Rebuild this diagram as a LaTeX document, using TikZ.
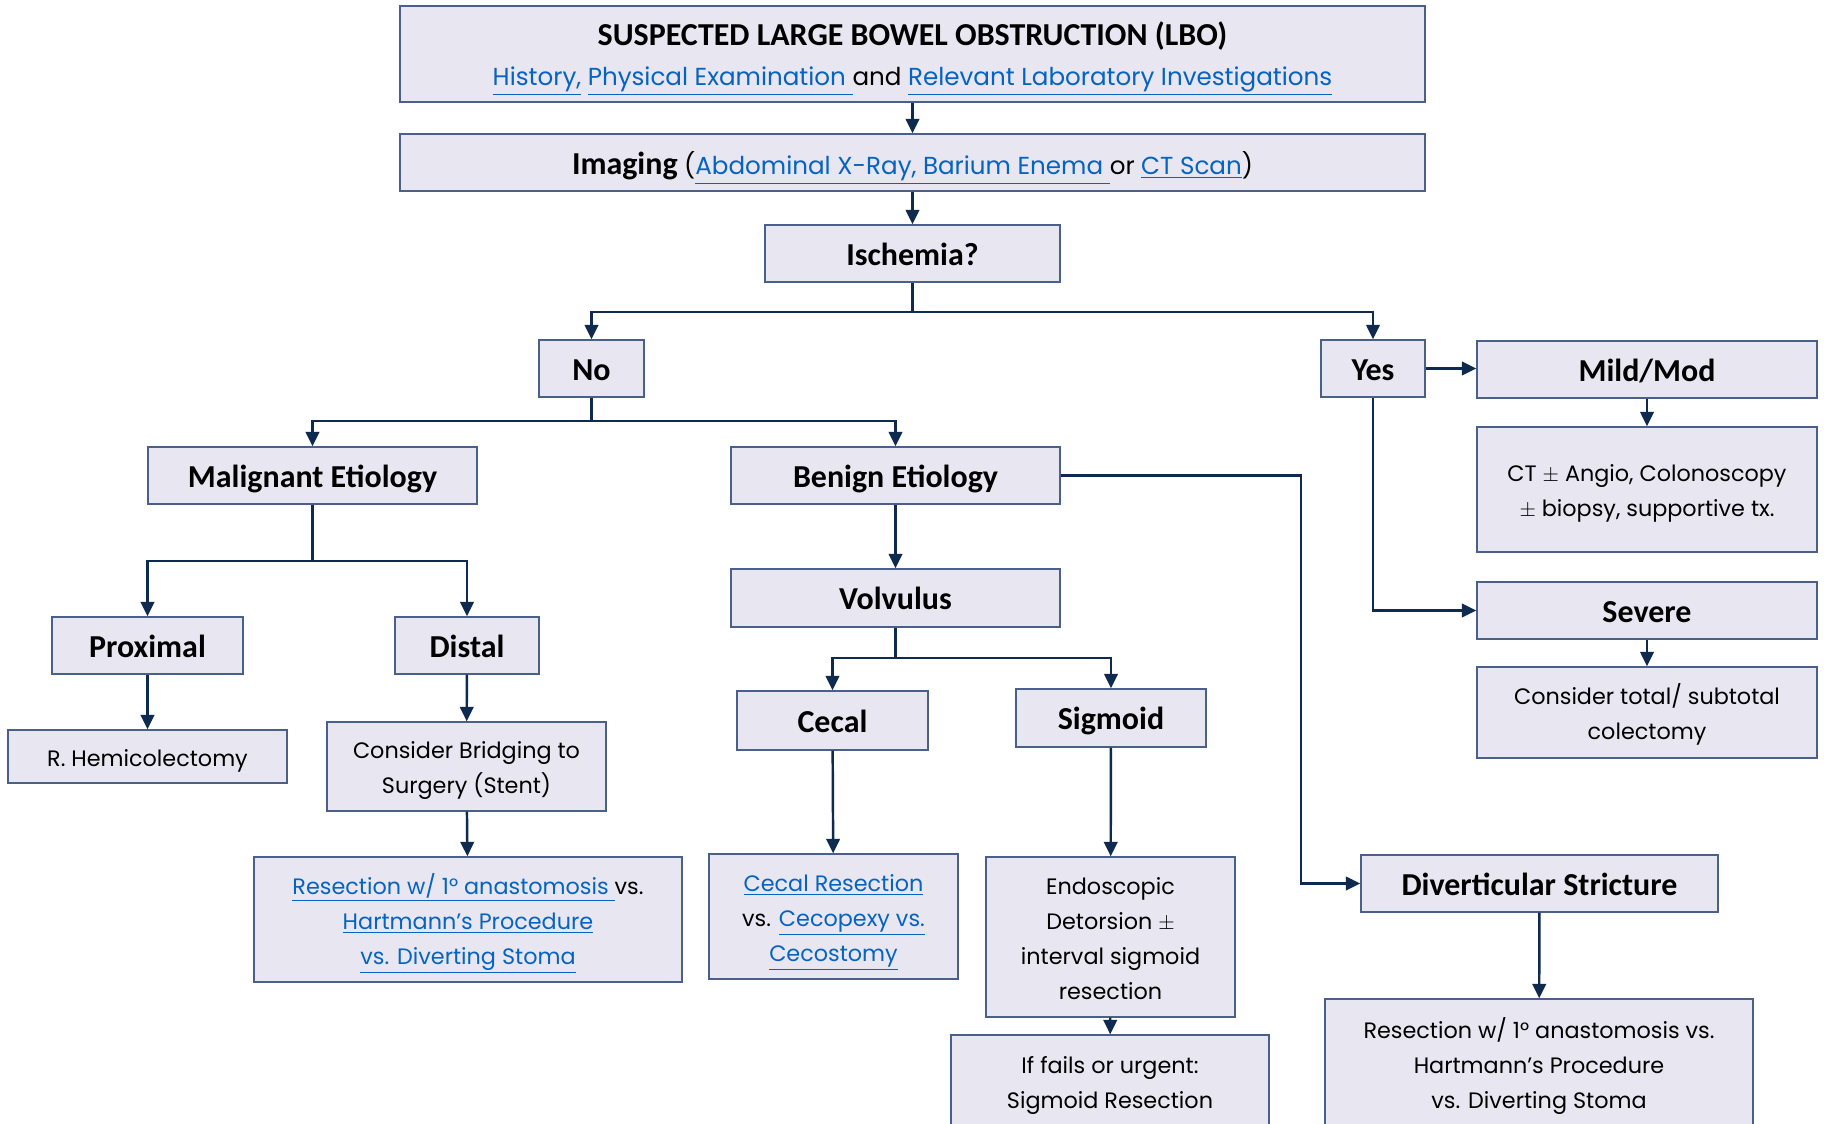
\documentclass[tikz,border=0pt]{standalone}
\usepackage{fontspec}
\setmainfont{Poppins}
\newfontfamily\headfont{Carlito}
\usepackage{xcolor}
\usetikzlibrary{calc,arrows.meta}
\definecolor{boxfill}{HTML}{E8E6F0}
\definecolor{boxline}{HTML}{4A6088}
\definecolor{navy}{HTML}{0F2A4F}
\definecolor{linkblue}{HTML}{0563C1}
\newcommand{\lnk}[1]{{\color{linkblue}\underline{#1}}}
\newcommand{\hdtext}{\headfont\bfseries\fontsize{18.2}{21}\selectfont}
\tikzset{
  box/.style={draw=boxline, fill=boxfill, line width=0.8pt, inner sep=0pt, align=center},
  sz/.style 2 args={minimum width=#1*0.02cm, minimum height=#2*0.02cm},
  hd/.style={font=\hdtext, text height=13.4pt, text depth=0pt},
  bd/.style={font=\fontsize{12.7}{19.9}\selectfont, text height={(#1-1)*19.9pt+19.2pt}, text depth=8pt},
  bd/.default=1,
  topbd/.style={font=\fontsize{14}{22.6}\selectfont},
  arr/.style={draw=navy, line width=1.4pt, -{Triangle[length=0.29cm,width=0.27cm]}},
  link/.style={draw=navy, line width=1.4pt},
}

\begin{document}
\begin{tikzpicture}[x=0.02cm, y=-0.02cm]
  \clip (0,0) rectangle (1825,1123);
  \fill[white] (0,0) rectangle (1825,1123);

  \node[box, topbd, text height=43.4pt, text depth=8pt, sz={1025}{96}] (lbo) at (912.5,54)
    {{\hdtext SUSPECTED LARGE BOWEL OBSTRUCTION (LBO)}\\
     \lnk{History,} \lnk{Physical Examination }and \lnk{Relevant Laboratory Investigations}};
  \node[box, topbd, text height=21.7pt, text depth=8pt, sz={1025}{57}] (img) at (912.5,162.5)
    {{\hdtext Imaging} (\lnk{Abdominal X-Ray, Barium Enema }or \lnk{CT Scan})};
  \node[box, hd, sz={295}{57}] (isch) at (912.5,253.5) {Ischemia?};

  \node[box, hd, sz={105}{57}] (no) at (591.5,368.5) {No};
  \node[box, hd, sz={104}{57}] (yes) at (1373,368.5) {Yes};

  % ischemia
  \node[box, hd, sz={340}{57}] (mild) at (1647,369.5) {Mild/Mod};
  \node[box, bd=2, sz={340}{125}] (ctangio) at (1647,489.5)
    {CT $\pm$ Angio, Colonoscopy\\ $\pm$ biopsy, supportive tx.};
  \node[box, hd, sz={340}{57}] (severe) at (1647,610.5) {Severe};
  \node[box, bd=2, sz={340}{91}] (colect) at (1647,712.5)
    {Consider total/ subtotal\\ colectomy};

  % no ischemia
  \node[box, hd, sz={329}{57}] (malig) at (312.5,475.5) {Malignant Etiology};
  \node[box, hd, sz={329}{57}] (benign) at (895.5,475.5) {Benign Etiology};

  \node[box, hd, sz={191}{57}] (prox) at (147.5,645.5) {Proximal};
  \node[box, hd, sz={144}{57}] (distal) at (467,645.5) {Distal};
  \node[box, bd, sz={279}{53}] (hemi) at (147.5,756.5) {R. Hemicolectomy};
  \node[box, bd=2, sz={279}{89}] (bridge) at (466.5,766.5)
    {Consider Bridging to\\ Surgery (Stent)};
  \node[box, bd=3, sz={428}{125}] (resmal) at (468,919.5)
    {\lnk{Resection w/ 1° anastomosis }vs.\\ \lnk{Hartmann’s Procedure}\\ \lnk{vs. Diverting Stoma}};

  \node[box, hd, sz={329}{58}] (volv) at (895.5,598) {Volvulus};
  \node[box, hd, sz={191}{59}] (cecal) at (832.5,720.5) {Cecal};
  \node[box, hd, sz={190}{58}] (sigm) at (1111,718) {Sigmoid};
  \node[box, bd=3, sz={249}{125}] (cecres) at (833.5,916.5)
    {\lnk{Cecal Resection}\\ vs. \lnk{Cecopexy vs.}\\ \lnk{Cecostomy}};
  \node[box, bd=4, sz={249}{160}] (endo) at (1110.5,937)
    {Endoscopic\\ Detorsion $\pm$\\ interval sigmoid\\ resection};
  \node[box, bd=2, sz={318}{93}] (fails) at (1110,1081.5)
    {If fails or urgent:\\ Sigmoid Resection};

  \node[box, hd, sz={357}{57}] (divs) at (1539.5,883.5) {Diverticular Stricture};
  \node[box, bd=3, sz={428}{130}] (resdiv) at (1539,1064)
    {Resection w/ 1° anastomosis vs.\\ Hartmann’s Procedure\\ vs. Diverting Stoma};

  \coordinate (splitA) at (912.5,312);
  \coordinate (splitB) at (591.5,421);
  \coordinate (splitC) at (312.5,561);
  \coordinate (splitD) at (895.5,658);
  \coordinate (divjog) at (1301,0);

  \draw[arr] (lbo) -- (img);
  \draw[arr] (img) -- (isch);
  \draw[link] (isch.south) -- (splitA);
  \draw[arr] (splitA) -| (no.north);
  \draw[arr] (splitA) -| (yes.north);

  \draw[arr] (yes.east) -- (yes.east -| mild.west);
  \draw[arr] (yes.south) |- (severe.west);
  \draw[arr] (mild) -- (ctangio);
  \draw[arr] (severe) -- (colect);

  \draw[link] (no.south) -- (splitB);
  \draw[arr] (splitB) -| (malig.north);
  \draw[arr] (splitB) -| (benign.north);

  \draw[link] (malig.south) -- (splitC);
  \draw[arr] (splitC) -| (prox.north);
  \draw[arr] (splitC) -| (distal.north);
  \draw[arr] (prox) -- (hemi);
  \draw[arr] (distal) -- (bridge);
  \draw[arr] (bridge) -- (resmal);

  \draw[arr] (benign) -- (volv);
  \draw[link] (volv.south) -- (splitD);
  \draw[arr] (splitD) -| (cecal.north);
  \draw[arr] (splitD) -| (sigm.north);
  \draw[arr] (cecal) -- (cecres);
  \draw[arr] (sigm) -- (endo);
  \draw[arr] (endo) -- (fails);

  \draw[arr] (benign.east) -| (divjog |- divs.west) -- (divs.west);
  \draw[arr] (divs) -- (resdiv);
\end{tikzpicture}
\end{document}
